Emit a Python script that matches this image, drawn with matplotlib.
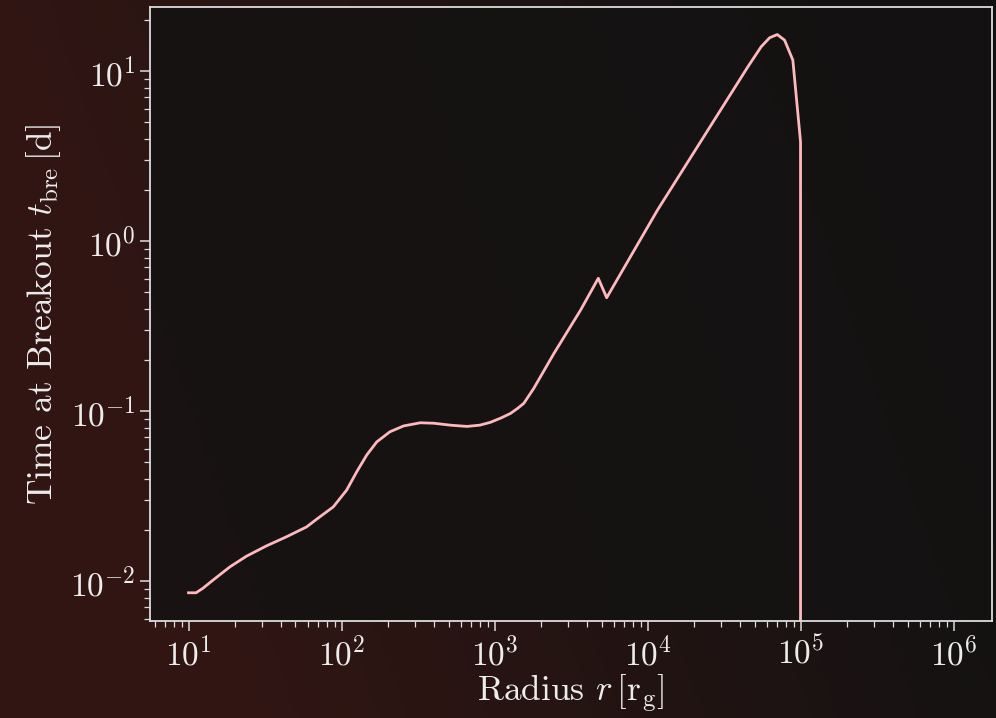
import matplotlib
matplotlib.use('Agg')
import matplotlib.pyplot as plt
import numpy as np

# Radius [r_g] and breakout time [d]
radius = [10, 11.2, 12.4, 14.4, 18.6, 23.9, 32.3, 43.6, 59.0, 68.7, 88.3,
          108, 125.6, 146, 170, 207, 254, 327, 399, 520, 660, 800, 938,
          1100, 1270, 1420, 1552, 1803, 2440, 3650, 4760, 5400, 11590,
          45200, 55200, 62700, 70300, 78500, 88900, 99800, 100000]
t_bre = [0.00853, 0.00853, 0.00906, 0.0101, 0.0121, 0.0140, 0.0161,
         0.0182, 0.0208, 0.0231, 0.0273, 0.0343, 0.0439, 0.0551, 0.0659,
         0.0755, 0.0817, 0.0853, 0.0848, 0.0825, 0.0812, 0.0826, 0.0858,
         0.091, 0.0968, 0.104, 0.111, 0.136, 0.218, 0.393, 0.604, 0.464,
         1.52, 10.6, 13.9, 15.7, 16.4, 15.2, 11.6, 3.84, 0.0]

txt = '#ececec'
plt.rcParams['font.family'] = 'serif'
plt.rcParams['font.serif'] = ['cmr10']
plt.rcParams['mathtext.fontset'] = 'cm'
plt.rcParams['axes.formatter.use_mathtext'] = True
plt.rcParams['axes.unicode_minus'] = True

fig = plt.figure(figsize=(9.96, 7.18), dpi=100)

# dark reddish backdrop
bg = fig.add_axes([0, 0, 1, 1], zorder=-10)
gx, gy = np.meshgrid(np.linspace(0, 1, 200), np.linspace(0, 1, 150))
w = np.clip(1.1 - gx * 1.2 + (gy - 0.3) * 0.3, 0, 1)
img = np.zeros(gx.shape + (3,))
img[..., 0] = 0.07 + 0.12 * w
img[..., 1] = 0.07 + 0.015 * w
img[..., 2] = 0.07 + 0.005 * w
bg.imshow(img, aspect='auto', extent=[0, 1, 0, 1], origin='upper')
bg.axis('off')

ax = fig.add_axes([0.1506, 0.1351, 0.8454, 0.8551])
ax.set_facecolor((0.08, 0.07, 0.07, 0.85))
ax.plot(radius, t_bre, color='#ffb8bb', linewidth=2.0)
ax.set_xscale('log')
ax.set_yscale('log')
ax.set_xlim(5.6, 1.78e6)
ax.set_ylim(0.00582, 23.8)

for s in ax.spines.values():
    s.set_color('#dcdcdc')
    s.set_linewidth(1.3)
ax.tick_params(which='both', colors='#dcdcdc', labelcolor=txt, labelsize=24)
ax.tick_params(which='major', length=7, width=1.1)
ax.tick_params(which='minor', length=4, width=0.9)

ax.set_xlabel(r'Radius $r\,[\rm r_g]$', fontsize=25.5, color=txt, labelpad=1)
ax.set_ylabel(r'Time at Breakout $t_{\rm bre}\,[\rm d]$', fontsize=25.5,
              color=txt, labelpad=5)

fig.savefig('out.png', dpi=100)
